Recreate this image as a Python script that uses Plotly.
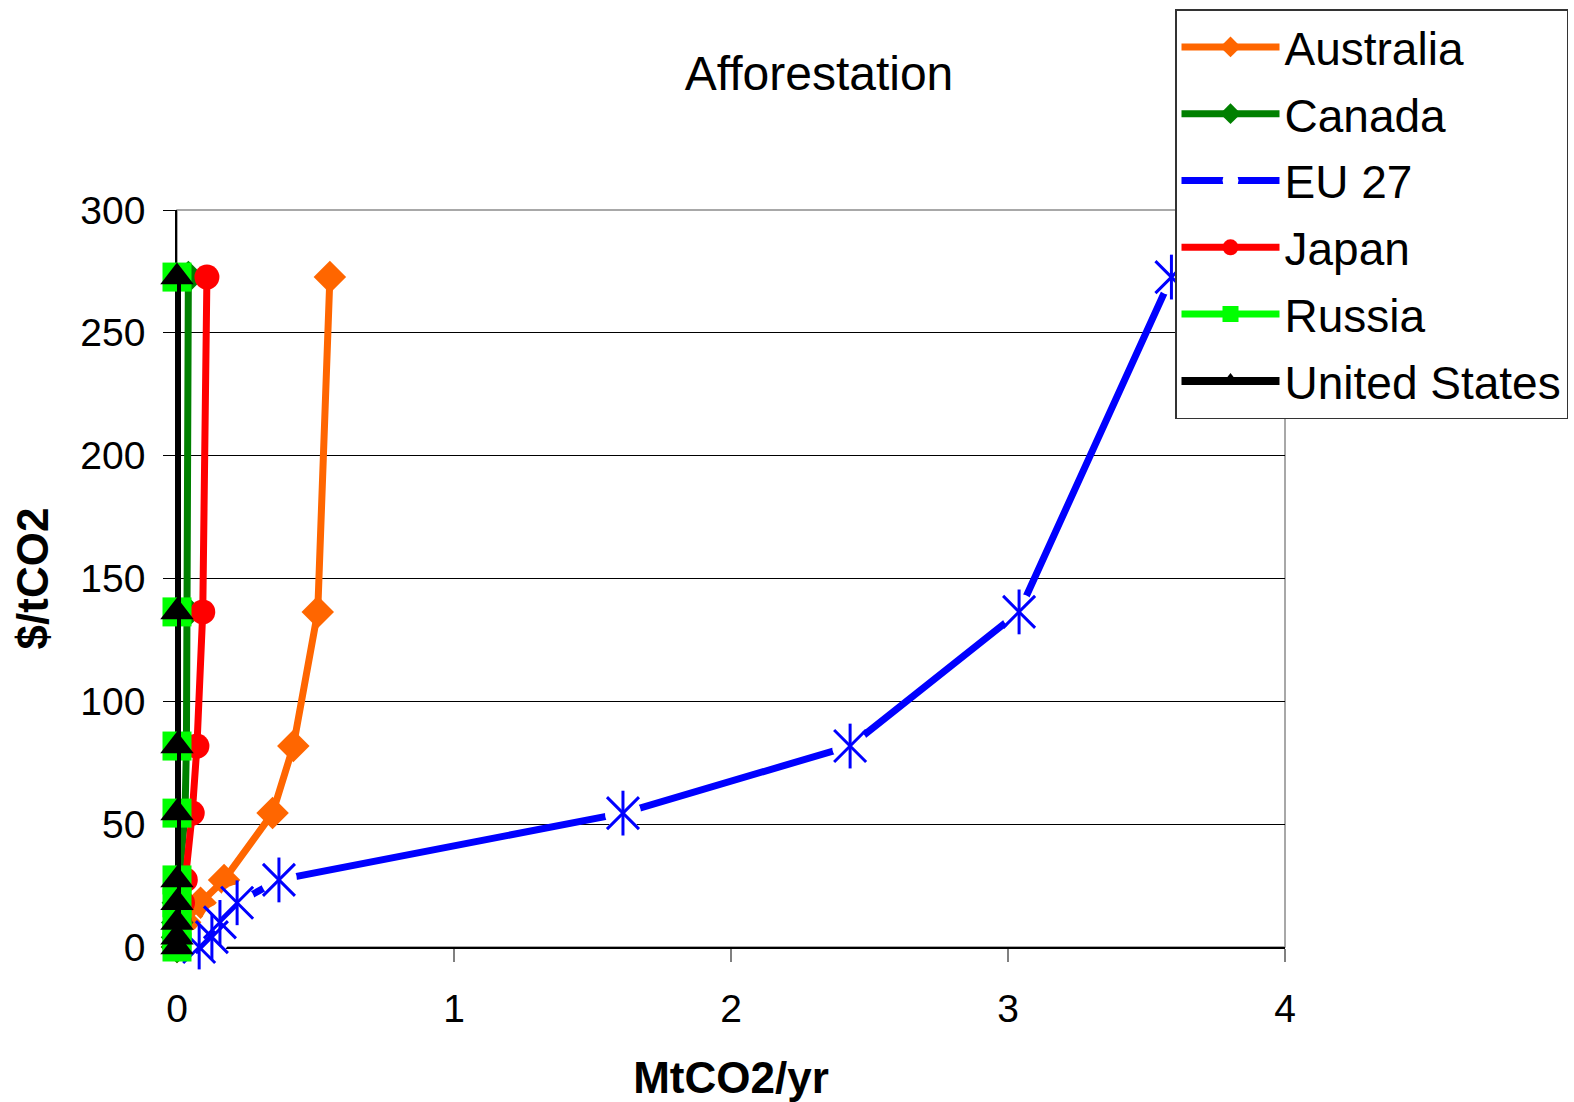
import plotly.graph_objects as go

# Carbon price levels ($/tCO2) shared by every country curve
price = [0, 4, 10, 18, 27.3, 54.5, 81.8, 136.4, 272.7]

# Afforestation abatement (MtCO2/yr) at each price level
australia = [0.0, 0.01, 0.03, 0.085, 0.17, 0.345, 0.42, 0.508, 0.552]
canada = [0.0, 0.0, 0.001, 0.003, 0.008, 0.029, 0.034, 0.037, 0.041]
eu27 = [0.08, 0.126, 0.155, 0.217, 0.368, 1.61, 2.43, 3.04, 3.59]
japan = [0.0, 0.005, 0.01, 0.02, 0.03, 0.055, 0.072, 0.093, 0.108]
russia = [0.0, 0.0, 0.0, 0.0, 0.0, 0.0, 0.0, 0.0, 0.0]
united_states = [0.0, 0.0, 0.0, 0.0, 0.0, 0.0, 0.0, 0.0, 0.0]

FONT = "Liberation Sans, Arial, sans-serif"
LW = 7

fig = go.Figure()

fig.add_trace(go.Scatter(
    x=australia, y=price, name="Australia", mode="lines+markers",
    legendgroup="aus", cliponaxis=False,
    line=dict(color="#FF6600", width=LW),
    marker=dict(symbol="diamond", size=25, color="#FF6600"),
))
fig.add_trace(go.Scatter(
    x=canada, y=price, name="Canada", mode="lines+markers",
    legendgroup="can", cliponaxis=False,
    line=dict(color="#008000", width=LW),
    marker=dict(symbol="diamond", size=25, color="#008000"),
))
# EU 27: line with white pads under each star marker (breaks the line around it)
fig.add_trace(go.Scatter(
    x=eu27, y=price, name="EU 27", mode="lines+markers",
    legendgroup="eu", cliponaxis=False,
    line=dict(color="#0000FF", width=LW),
    marker=dict(symbol="circle", size=36, color="white"),
))
fig.add_trace(go.Scatter(
    x=eu27, y=price, name="EU 27", mode="markers", showlegend=False,
    legendgroup="eu", hoverinfo="skip", cliponaxis=False,
    marker=dict(symbol="x-thin-open", size=32, color="#0000FF",
                line=dict(color="#0000FF", width=3)),
))
fig.add_trace(go.Scatter(
    x=eu27, y=price, name="EU 27", mode="markers", showlegend=False,
    legendgroup="eu", cliponaxis=False,
    marker=dict(symbol="line-ns-open", size=32, color="#0000FF",
                line=dict(color="#0000FF", width=3)),
))
fig.add_trace(go.Scatter(
    x=japan, y=price, name="Japan", mode="lines+markers",
    legendgroup="jpn", cliponaxis=False,
    line=dict(color="#FF0000", width=LW),
    marker=dict(symbol="circle", size=25, color="#FF0000"),
))
fig.add_trace(go.Scatter(
    x=russia, y=price, name="Russia", mode="lines+markers",
    legendgroup="rus", cliponaxis=False,
    line=dict(color="#00FF00", width=LW),
    marker=dict(symbol="square", size=29, color="#00FF00"),
))
fig.add_trace(go.Scatter(
    x=united_states, y=price, name="United States", mode="lines+markers",
    legendgroup="usa", cliponaxis=False,
    line=dict(color="#000000", width=8),
    marker=dict(symbol="triangle-up", size=29, color="#000000"),
))

# Plot-area frame
fig.add_shape(type="rect", xref="paper", yref="paper", x0=0, x1=1, y0=0, y1=1,
              line=dict(color="#8c8c8c", width=1.5), layer="between")

fig.update_layout(
    width=1574, height=1102,
    margin=dict(l=177, r=289, t=210, b=155, autoexpand=False),
    paper_bgcolor="white", plot_bgcolor="white",
    font=dict(family=FONT, color="black"),
    title=dict(text="Afforestation", font=dict(size=48, family=FONT, color="black"),
               x=819 / 1574, xref="container", xanchor="center",
               y=1 - 73 / 1102, yref="container", yanchor="middle"),
    legend=dict(
        xref="container", yref="container",
        x=1175 / 1574, xanchor="left", y=1 - 9 / 1102, yanchor="top",
        font=dict(size=46, family=FONT, color="black"),
        bgcolor="white", bordercolor="#333333", borderwidth=1.5,
        traceorder="grouped", tracegroupgap=4, itemwidth=98,
    ),
    showlegend=True,
)

fig.update_xaxes(
    range=[0, 4], dtick=1, tick0=0, showgrid=False, zeroline=False,
    showline=True, linecolor="black", linewidth=1.5, layer="below traces",
    ticks="outside", ticklen=13, tickcolor="#808080", tickwidth=2,
    tickfont=dict(size=39, family=FONT, color="black"), ticklabelstandoff=13,
    title=dict(text="<b>MtCO2/yr</b>", font=dict(size=44, family=FONT, color="black"),
               standoff=36),
)
fig.update_yaxes(
    range=[0, 300], dtick=50, tick0=0, showgrid=True, gridcolor="black", gridwidth=1,
    zeroline=False, showline=True, linecolor="black", linewidth=1.5,
    layer="below traces",
    ticks="outside", ticklen=12, tickcolor="black", tickwidth=1,
    tickfont=dict(size=39, family=FONT, color="black"), ticklabelstandoff=10,
    title=dict(text="<b>$/tCO2</b>", font=dict(size=44, family=FONT, color="black"),
               standoff=18),
)

fig.write_html("out.html")
